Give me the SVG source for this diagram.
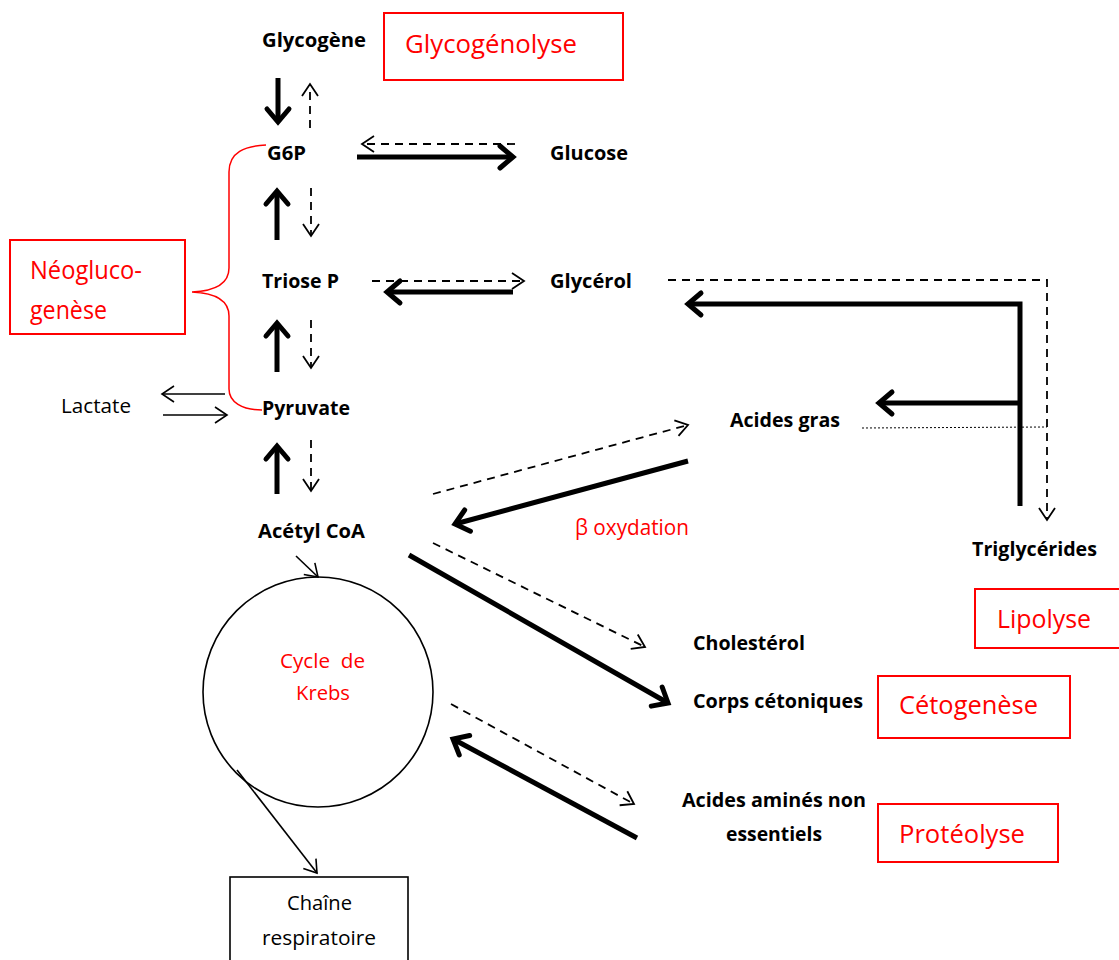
<svg xmlns="http://www.w3.org/2000/svg" width="1119" height="960" viewBox="0 0 1119 960">
<style>
.b{font-family:"Open Sans",Lato,"Liberation Sans",sans-serif;font-weight:bold;font-size:20px;fill:#000}
.r{font-family:"Open Sans",Lato,"Liberation Sans",sans-serif;font-size:20px;fill:#000}
.red{font-family:"Open Sans",Lato,"Liberation Sans",sans-serif;fill:#f00}
.box{fill:none;stroke:#f00;stroke-width:2}
.th{stroke:#000;stroke-width:5;fill:none}
.ds{stroke:#000;stroke-width:1.8;fill:none;stroke-dasharray:8,6}
.tn{stroke:#000;stroke-width:1.6;fill:none}
</style>
<defs>
<marker id="mt" markerUnits="userSpaceOnUse" markerWidth="30" markerHeight="30" viewBox="0 0 30 30" refX="22" refY="15" orient="auto" overflow="visible"><path d="M9,4 L22,15 L9,26" fill="none" stroke="#000" stroke-width="5" stroke-linecap="round"/></marker>
<marker id="md" markerUnits="userSpaceOnUse" markerWidth="30" markerHeight="30" viewBox="0 0 30 30" refX="21" refY="15" orient="auto" overflow="visible"><path d="M9,7 L21,15 L9,23" fill="none" stroke="#000" stroke-width="1.8"/></marker>
<marker id="mn" markerUnits="userSpaceOnUse" markerWidth="30" markerHeight="30" viewBox="0 0 30 30" refX="21" refY="15" orient="auto" overflow="visible"><path d="M9,7 L21,15 L9,23" fill="none" stroke="#000" stroke-width="1.6"/></marker>
</defs>
<rect width="1119" height="960" fill="#fff"/>

<g id="connectors">
<line class="th" x1="278" y1="78" x2="278" y2="122" marker-end="url(#mt)"/>
<line class="ds" x1="310" y1="128" x2="310" y2="84" marker-end="url(#md)"/>
<line class="th" x1="277" y1="240" x2="277" y2="191" marker-end="url(#mt)"/>
<line class="ds" x1="311" y1="188" x2="311" y2="236" marker-end="url(#md)"/>
<line class="th" x1="277" y1="372" x2="277" y2="323" marker-end="url(#mt)"/>
<line class="ds" x1="311" y1="320" x2="311" y2="368" marker-end="url(#md)"/>
<line class="th" x1="277" y1="494" x2="277" y2="446" marker-end="url(#mt)"/>
<line class="ds" x1="311" y1="440" x2="311" y2="491" marker-end="url(#md)"/>
<line class="th" x1="357" y1="157" x2="513" y2="157" marker-end="url(#mt)"/>
<line class="ds" x1="515" y1="144" x2="362" y2="144" marker-end="url(#md)"/>
<line class="ds" x1="372" y1="281" x2="524" y2="281" marker-end="url(#md)"/>
<line class="th" x1="513" y1="292" x2="387" y2="292" marker-end="url(#mt)"/>
<polyline class="ds" points="668,280 1047,280 1047,520" marker-end="url(#md)"/>
<polyline class="th" points="1020,506 1020,304 688,304" marker-end="url(#mt)"/>
<line class="th" x1="1020" y1="403" x2="879" y2="403" marker-end="url(#mt)"/>
<line x1="862" y1="428" x2="1047" y2="427" stroke="#000" stroke-width="1" stroke-dasharray="2,2"/>
<line class="ds" x1="433" y1="494" x2="688" y2="425" marker-end="url(#md)"/>
<line class="th" x1="688" y1="461" x2="455" y2="524" marker-end="url(#mt)"/>
<line class="ds" x1="433" y1="543" x2="645" y2="647" marker-end="url(#md)"/>
<line class="th" x1="409" y1="555" x2="668" y2="703" marker-end="url(#mt)"/>
<line class="tn" x1="296" y1="556" x2="318" y2="577" marker-end="url(#mn)"/>
<line class="ds" x1="451" y1="704" x2="634" y2="804" marker-end="url(#md)"/>
<line class="th" x1="637" y1="838" x2="453" y2="739" marker-end="url(#mt)"/>
<line class="tn" x1="237" y1="770" x2="317" y2="873" marker-end="url(#mn)"/>
<line class="tn" x1="225" y1="394" x2="162" y2="394" marker-end="url(#mn)"/>
<line class="tn" x1="163" y1="415" x2="227" y2="415" marker-end="url(#mn)"/>
<path d="M266,145 C245,146 229,152 229,172 L229,268 C229,284 214,291 192,292 C214,293 229,300 229,316 L229,389 C229,402 242,410 262,410" fill="none" stroke="#f00" stroke-width="1.5"/>
</g>

<g id="n-glycogene"><text class="b" x="262" y="47" textLength="104" lengthAdjust="spacingAndGlyphs">Glycogène</text></g>
<g id="n-glycogenolyse"><rect class="box" x="384" y="13" width="239" height="67"/><text class="red" x="405" y="53" font-size="26" textLength="172" lengthAdjust="spacingAndGlyphs">Glycogénolyse</text></g>
<g id="n-g6p"><text class="b" x="267" y="160" textLength="39" lengthAdjust="spacingAndGlyphs">G6P</text></g>
<g id="n-glucose"><text class="b" x="550" y="160" textLength="78" lengthAdjust="spacingAndGlyphs">Glucose</text></g>
<g id="n-neoglucogenese"><rect class="box" x="10" y="240" width="175" height="94"/><text class="red" x="30" y="279" font-size="26" textLength="112" lengthAdjust="spacingAndGlyphs">Néogluco-</text><text class="red" x="30" y="319" font-size="26" textLength="77" lengthAdjust="spacingAndGlyphs">genèse</text></g>
<g id="n-triose"><text class="b" x="262" y="288" textLength="77" lengthAdjust="spacingAndGlyphs">Triose P</text></g>
<g id="n-glycerol"><text class="b" x="550" y="288" textLength="82" lengthAdjust="spacingAndGlyphs">Glycérol</text></g>
<g id="n-lactate"><text class="r" x="61" y="413" textLength="70" lengthAdjust="spacingAndGlyphs">Lactate</text></g>
<g id="n-pyruvate"><text class="b" x="262" y="415" textLength="88" lengthAdjust="spacingAndGlyphs">Pyruvate</text></g>
<g id="n-acidesgras"><text class="b" x="730" y="427" textLength="110" lengthAdjust="spacingAndGlyphs">Acides gras</text></g>
<g id="n-acetyl"><text class="b" x="258" y="538" textLength="107" lengthAdjust="spacingAndGlyphs">Acétyl CoA</text></g>
<g id="n-boxydation"><text class="red" x="575" y="535" font-size="21" textLength="114" lengthAdjust="spacingAndGlyphs">β oxydation</text></g>
<g id="n-triglycerides"><text class="b" x="972" y="556" textLength="125" lengthAdjust="spacingAndGlyphs">Triglycérides</text></g>
<g id="n-lipolyse"><rect class="box" x="975" y="589" width="150" height="59"/><text class="red" x="997" y="628" font-size="26" textLength="94" lengthAdjust="spacingAndGlyphs">Lipolyse</text></g>
<g id="n-cholesterol"><text class="b" x="693" y="650" textLength="112" lengthAdjust="spacingAndGlyphs">Cholestérol</text></g>
<g id="n-corps"><text class="b" x="693" y="708" textLength="170" lengthAdjust="spacingAndGlyphs">Corps cétoniques</text></g>
<g id="n-cetogenese"><rect class="box" x="878" y="676" width="192" height="62"/><text class="red" x="899" y="714" font-size="26" textLength="139" lengthAdjust="spacingAndGlyphs">Cétogenèse</text></g>
<g id="n-krebs"><circle cx="318" cy="692" r="115" fill="none" stroke="#000" stroke-width="1.6"/><text class="red" x="280" y="668" font-size="20" textLength="85" lengthAdjust="spacingAndGlyphs" xml:space="preserve">Cycle  de</text><text class="red" x="296" y="700" font-size="20" textLength="54" lengthAdjust="spacingAndGlyphs">Krebs</text></g>
<g id="n-aa"><text class="b" x="682" y="807" textLength="184" lengthAdjust="spacingAndGlyphs">Acides aminés non</text><text class="b" x="726" y="841" textLength="96" lengthAdjust="spacingAndGlyphs">essentiels</text></g>
<g id="n-proteolyse"><rect class="box" x="878" y="804" width="180" height="58"/><text class="red" x="899" y="843" font-size="26" textLength="126" lengthAdjust="spacingAndGlyphs">Protéolyse</text></g>
<g id="n-chaine"><rect x="230" y="877" width="178" height="90" fill="none" stroke="#000" stroke-width="1.6"/><text class="r" x="287" y="910" textLength="65" lengthAdjust="spacingAndGlyphs">Chaîne</text><text class="r" x="262" y="945" textLength="114" lengthAdjust="spacingAndGlyphs">respiratoire</text></g>
</svg>
